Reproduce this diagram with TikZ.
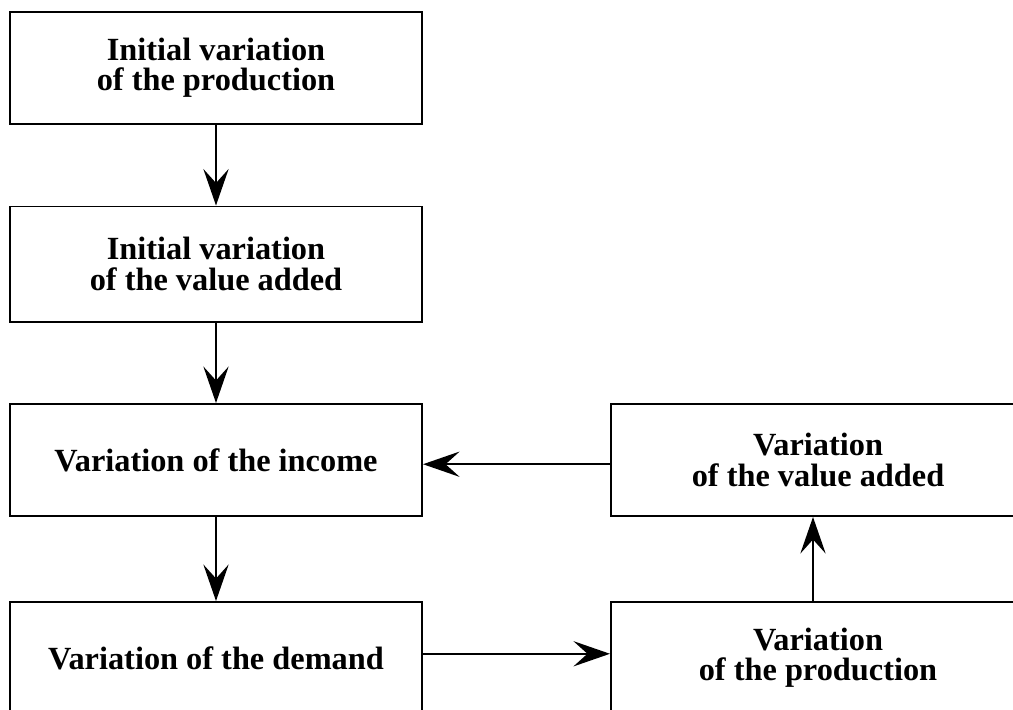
\documentclass[tikz,border=0pt]{standalone}
\usepackage{fontspec}
\setmainfont{Liberation Serif}
\usetikzlibrary{arrows.meta}

\begin{document}
\begin{tikzpicture}[x=0.025cm,y=-0.025cm,
  box/.style={rectangle,draw=black,line width=1.4pt,minimum width=10.3cm,minimum height=2.8cm,
    inner sep=0pt,align=center,font=\bfseries\fontsize{23}{21.5}\selectfont},
  flow/.style={-{Stealth[length=26pt,width=18pt,inset=10pt]},line width=1.1pt}]
\useasboundingbox (0,0) rectangle (1013,710);
\clip (0,0) rectangle (1013,710);
\node at (216,68) [box] (Prod0) {Initial variation\\of the production};
\node at (216,264) [box,minimum height=2.875cm] (VA0) {Initial variation\\of the value added};
\node at (216,460) [box] (Income) {Variation of the income};
\node at (216,658) [box] (Demand) {Variation of the demand};
\node at (818,460) [box,minimum width=10.35cm] (VA) {Variation\\of the value added};
\node at (818,658) [box,minimum width=10.35cm] (Prod) {Variation\\of the production};
\draw [flow] (Prod0) -- (VA0);
\draw [flow] (VA0) -- (Income);
\draw [flow] (Income) -- (Demand);
\draw [flow] ([yshift=3pt]Demand.east) -- ([yshift=3pt]Prod.west);
\draw [flow] (Prod.north -| 813,0) -- (VA.south -| 813,0);
\draw [flow] ([yshift=-3pt]VA.west) -- ([yshift=-3pt]Income.east);
\end{tikzpicture}
\end{document}
